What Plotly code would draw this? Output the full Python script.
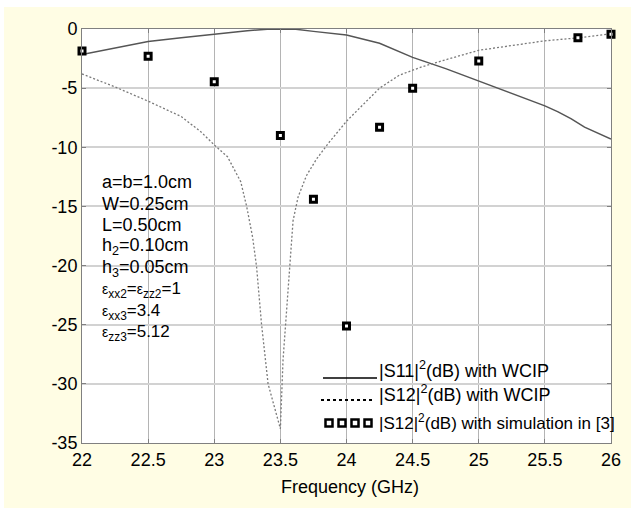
import plotly.graph_objects as go

# ---------------- data ----------------
freq_s11 = [22.0, 22.25, 22.5, 22.75, 23.0, 23.25, 23.4, 23.5, 23.6, 23.75, 24.0,
            24.25, 24.5, 24.75, 25.0, 25.25, 25.5, 25.6, 25.7, 25.8, 26.0]
s11_db = [-2.15, -1.6, -1.05, -0.75, -0.42, -0.15, -0.02, 0.0, 0.0, -0.2, -0.5,
          -1.2, -2.4, -3.35, -4.4, -5.45, -6.5, -7.0, -7.6, -8.3, -9.3]

freq_s12 = [22.0, 22.25, 22.5, 22.75, 22.9, 23.0, 23.1, 23.2, 23.245, 23.29, 23.32,
            23.357, 23.407, 23.458, 23.5, 23.52, 23.546, 23.571, 23.596, 23.634,
            23.697, 23.773, 23.86, 24.0, 24.1, 24.25, 24.4, 24.57, 24.75, 25.0,
            25.25, 25.5, 25.75, 26.0]
s12_db = [-3.8, -4.9, -6.1, -7.4, -8.7, -9.8, -10.8, -12.9, -15.0, -17.6, -20.1,
          -24.9, -30.0, -32.0, -33.8, -28.0, -23.8, -20.1, -16.2, -14.2,
          -12.4, -11.0, -9.7, -7.8, -6.7, -5.0, -3.9, -3.2, -2.6, -1.8,
          -1.4, -1.0, -0.75, -0.4]

freq_sim = [22.0, 22.5, 23.0, 23.5, 23.75, 24.0, 24.25, 24.5, 25.0, 25.75, 26.0]
sim_db = [-1.85, -2.3, -4.45, -9.0, -14.4, -25.1, -8.3, -5.0, -2.7, -0.75, -0.45]

x_ticks = [22, 22.5, 23, 23.5, 24, 24.5, 25, 25.5, 26]
x_tick_labels = ["22", "22.5", "23", "23.5", "24", "24.5", "25", "25.5", "26"]
y_ticks = [0, -5, -10, -15, -20, -25, -30, -35]
y_tick_labels = ["0", "-5", "-10", "-15", "-20", "-25", "-30", "-35"]

EPS = "<span style='font-size:14px'>ε</span>"
param_lines = [
    "a=b=1.0cm",
    "W=0.25cm",
    "L=0.50cm",
    "h<sub>2</sub>=0.10cm",
    "h<sub>3</sub>=0.05cm",
    EPS + "<sub>xx2</sub>=" + EPS + "<sub>zz2</sub>=1",
    EPS + "<sub>xx3</sub>=3.4",
    EPS + "<sub>zz3</sub>=5.12",
]
param_sizes = [18, 18, 18, 18, 18, 17, 17, 17]
legend_labels = [
    "|S11|<sup>2</sup>(dB) with WCIP",
    "|S12|<sup>2</sup>(dB) with WCIP",
    "|S12|<sup>2</sup>(dB) with simulation in [3]",
]

# ---------------- layout helpers ----------------
W, H = 631, 510
L, R, T, B = 82, 20, 29, 67
PX0, PX1 = L, W - R
PY0, PY1 = T, H - B


def px_x(p):
    return (p - PX0) / (PX1 - PX0)


def px_y(p):
    return (PY1 - p) / (PY1 - PY0)


FONT = "Liberation Sans, Arial, Helvetica, sans-serif"
PANEL = "#FFFDE4"

fig = go.Figure()
fig.add_trace(go.Scatter(x=freq_s11, y=s11_db, mode="lines",
                         line=dict(color="#555555", width=1.5),
                         showlegend=False, hoverinfo="skip"))
fig.add_trace(go.Scatter(x=freq_s12, y=s12_db, mode="lines",
                         line=dict(color="#7a7a7a", width=1.3, dash="2px,2px"),
                         showlegend=False, hoverinfo="skip"))
fig.add_trace(go.Scatter(x=freq_sim, y=sim_db, mode="markers",
                         marker=dict(symbol="square", size=6, color="white",
                                     line=dict(color="black", width=3)),
                         cliponaxis=False, showlegend=False, hoverinfo="skip"))

annotations = []
# parameter text block
for i, (t, fs) in enumerate(zip(param_lines, param_sizes)):
    annotations.append(dict(
        xref="paper", yref="paper", x=px_x(100), y=px_y(182 + i * 21.6),
        xanchor="left", yanchor="middle", showarrow=False, text=t,
        font=dict(family=FONT, size=fs, color="black")))

# legend texts
leg_y = [369, 393, 422]
leg_sizes = [18, 18, 17]
for t, yy, fs in zip(legend_labels, leg_y, leg_sizes):
    annotations.append(dict(
        xref="paper", yref="paper", x=px_x(377), y=px_y(yy),
        xanchor="left", yanchor="middle", showarrow=False, text=t,
        font=dict(family=FONT, size=fs, color="black")))

# axis title
annotations.append(dict(
    xref="paper", yref="paper", x=px_x(350), y=px_y(487),
    xanchor="center", yanchor="middle", showarrow=False,
    text="Frequency (GHz)", font=dict(family=FONT, size=18, color="black")))

shapes = []
# pale yellow panel, drawn as strips in the margins (page border stays white)
panel_strips = [
    (4, 631, 7, PY0),      # top
    (4, 631, PY1, 508),    # bottom
    (4, PX0, 7, 508),      # left
    (PX1, 631, 7, 508),    # right
]
for xa, xb, ya, yb in panel_strips:
    shapes.append(dict(type="rect", xref="paper", yref="paper",
                       x0=px_x(xa), x1=px_x(xb), y0=px_y(yb), y1=px_y(ya),
                       fillcolor=PANEL, line=dict(width=0), layer="below"))
# legend glyphs
shapes.append(dict(type="line", xref="paper", yref="paper",
                   x0=px_x(323), x1=px_x(377), y0=px_y(378), y1=px_y(378),
                   line=dict(color="black", width=1.5)))
shapes.append(dict(type="line", xref="paper", yref="paper",
                   x0=px_x(321), x1=px_x(372), y0=px_y(400), y1=px_y(400),
                   line=dict(color="black", width=2, dash="dot")))
for cx in [329, 342, 355, 368]:
    shapes.append(dict(type="rect", xref="paper", yref="paper",
                       x0=px_x(cx - 3.5), x1=px_x(cx + 3.5),
                       y0=px_y(423 + 3.5), y1=px_y(423 - 3.5),
                       fillcolor="white", line=dict(color="black", width=2.5)))

fig.update_layout(
    width=W, height=H,
    margin=dict(l=L, r=R, t=T, b=B, pad=0),
    paper_bgcolor="white",
    plot_bgcolor="white",
    font=dict(family=FONT, size=18, color="black"),
    showlegend=False,
    annotations=annotations,
    shapes=shapes,
    xaxis=dict(range=[22, 26], tickvals=x_ticks, ticktext=x_tick_labels,
               showgrid=True, gridcolor="#b4b4b4", gridwidth=1,
               zeroline=False, showline=True, linecolor="#808080", linewidth=1,
               mirror="ticks", ticks="inside", ticklen=4, tickcolor="#808080",
               tickfont=dict(family=FONT, size=18, color="black"),
               automargin=False, fixedrange=True),
    yaxis=dict(range=[-35, 0], tickvals=y_ticks, ticktext=y_tick_labels,
               showgrid=True, gridcolor="#d2d2d2", gridwidth=2,
               zeroline=False, showline=True, linecolor="#808080", linewidth=1,
               mirror="ticks", ticks="inside", ticklen=4, tickcolor="#808080",
               tickfont=dict(family=FONT, size=18, color="black"),
               automargin=False, fixedrange=True),
)

fig.write_html("out.html",
               config={"displayModeBar": False},
               post_script="document.body.style.margin='0';"
                           "document.body.style.padding='0';")
